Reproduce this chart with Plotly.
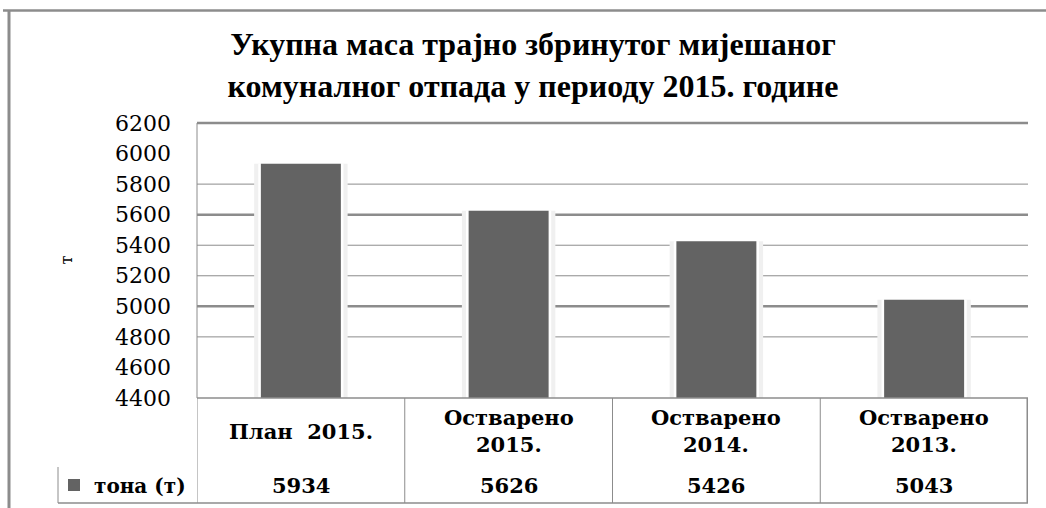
import plotly.graph_objects as go

# ---- data ----
categories = ["План 2015.", "Остварено 2015.", "Остварено 2014.", "Остварено 2013."]
table_labels = ["План  2015.", "Остварено<br>2015.", "Остварено<br>2014.", "Остварено<br>2013."]
values = [5934, 5626, 5426, 5043]
series_name = "тона (т)"
y_ticks = [4400, 4600, 4800, 5000, 5200, 5400, 5600, 5800, 6000, 6200]
title_text = "Укупна маса трајно збринутог мијешаног<br>комуналног отпада у периоду 2015. године"
y_title = "т"

# ---- geometry (pixels) ----
W, H = 1046, 508
L, R, T, B = 197, 1028, 123, 398


def px2x(px):
    return (px - L) / (R - L)


def py2y(py):
    return (B - py) / (B - T)


GRID = "#8c8c8c"
SERIF = "DejaVu Serif"

fig = go.Figure()
# soft shadow behind bars
fig.add_trace(go.Bar(x=categories, y=values, width=0.45, marker=dict(color="#f0f0f0", line=dict(width=0)),
                     showlegend=False, hoverinfo="skip"))
# white rim
fig.add_trace(go.Bar(x=categories, y=values, width=0.41, marker=dict(color="#ffffff", line=dict(width=0)),
                     showlegend=False, hoverinfo="skip"))
# main bars
fig.add_trace(go.Bar(x=categories, y=values, width=0.385, name=series_name,
                     marker=dict(color="#636363", line=dict(width=0)), showlegend=True))

shapes = []
# gridlines (as visible in the reference)
thin = [4800, 5200, 5400, 5800]
thick = [5000, 5600]
for v in thin:
    shapes.append(dict(type="line", xref="paper", yref="y", x0=0, x1=1, y0=v, y1=v,
                       line=dict(color=GRID, width=1), layer="below"))
for v in thick:
    shapes.append(dict(type="line", xref="paper", yref="y", x0=0, x1=1, y0=v, y1=v,
                       line=dict(color=GRID, width=2.5), layer="below"))
# plot frame top and left
shapes.append(dict(type="line", xref="paper", yref="paper", x0=0, x1=1, y0=1, y1=1,
                   line=dict(color=GRID, width=2.5)))
shapes.append(dict(type="line", xref="paper", yref="paper", x0=0, x1=0, y0=0, y1=1,
                   line=dict(color=GRID, width=1)))
# axis line / table top
shapes.append(dict(type="line", xref="paper", yref="paper", x0=0, x1=1, y0=0, y1=0,
                   line=dict(color=GRID, width=1.5)))
# table vertical dividers
n = len(categories)
for i in range(n + 1):
    shapes.append(dict(type="line", xref="x", yref="paper", x0=i - 0.5, x1=i - 0.5,
                       y0=0, y1=py2y(503),
                       line=dict(color=GRID, width=3 if i == n else 1)))
# table bottom line and legend cell left line
shapes.append(dict(type="line", xref="paper", yref="paper", x0=px2x(58), x1=1,
                   y0=py2y(503), y1=py2y(503), line=dict(color=GRID, width=1.5)))
shapes.append(dict(type="line", xref="paper", yref="paper", x0=px2x(58), x1=px2x(58),
                   y0=py2y(467), y1=py2y(503), line=dict(color=GRID, width=1)))
# outer chart border (left and top)
shapes.append(dict(type="line", xref="paper", yref="paper", x0=px2x(9), x1=px2x(9),
                   y0=py2y(10), y1=py2y(512), line=dict(color=GRID, width=3)))
shapes.append(dict(type="line", xref="paper", yref="paper", x0=px2x(3), x1=px2x(1050),
                   y0=py2y(10.5), y1=py2y(10.5), line=dict(color=GRID, width=2.5)))

annotations = []
for cat, lab in zip(categories, table_labels):
    annotations.append(dict(x=cat, xref="x", y=py2y(431), yref="paper", text=lab, showarrow=False,
                            xanchor="center", yanchor="middle",
                            font=dict(family=SERIF, size=21, color="#000000", weight="bold")))
for cat, v in zip(categories, values):
    annotations.append(dict(x=cat, xref="x", y=py2y(485), yref="paper", text=str(v), showarrow=False,
                            xanchor="center", yanchor="middle",
                            font=dict(family=SERIF, size=21, color="#000000", weight="bold")))
annotations.append(dict(x=px2x(66), xref="paper", y=0.5, yref="paper", text=y_title, textangle=-90,
                        showarrow=False, xanchor="center", yanchor="middle",
                        font=dict(family=SERIF, size=16, color="#000000")))

fig.update_layout(
    width=W, height=H,
    margin=dict(l=L, r=W - R, t=T, b=H - B, autoexpand=False),
    paper_bgcolor="#ffffff", plot_bgcolor="#ffffff",
    barmode="overlay",
    title=dict(text=title_text, x=533 / W, xanchor="center", xref="container",
               y=1 - 55 / H, yanchor="middle", yref="container",
               font=dict(family="Liberation Serif", size=32, color="#000000", weight="bold")),
    xaxis=dict(type="category", range=[-0.5, n - 0.5], showticklabels=False, showgrid=False,
               zeroline=False, showline=False, ticks=""),
    yaxis=dict(range=[y_ticks[0], y_ticks[-1]], tickvals=y_ticks, showgrid=False, zeroline=False,
               showline=False, ticks="", ticklabelstandoff=25,
               tickfont=dict(family=SERIF, size=22, color="#000000")),
    legend=dict(x=px2x(54), y=py2y(485), xanchor="left", yanchor="middle", xref="paper", yref="paper",
                bgcolor="rgba(0,0,0,0)", borderwidth=0,
                font=dict(family=SERIF, size=20, color="#000000", weight="bold")),
    shapes=shapes,
    annotations=annotations,
    showlegend=True,
)

fig.write_html("out.html", config={"displayModeBar": False},
               post_script="document.body.style.margin='0';document.body.style.overflow='hidden';")
